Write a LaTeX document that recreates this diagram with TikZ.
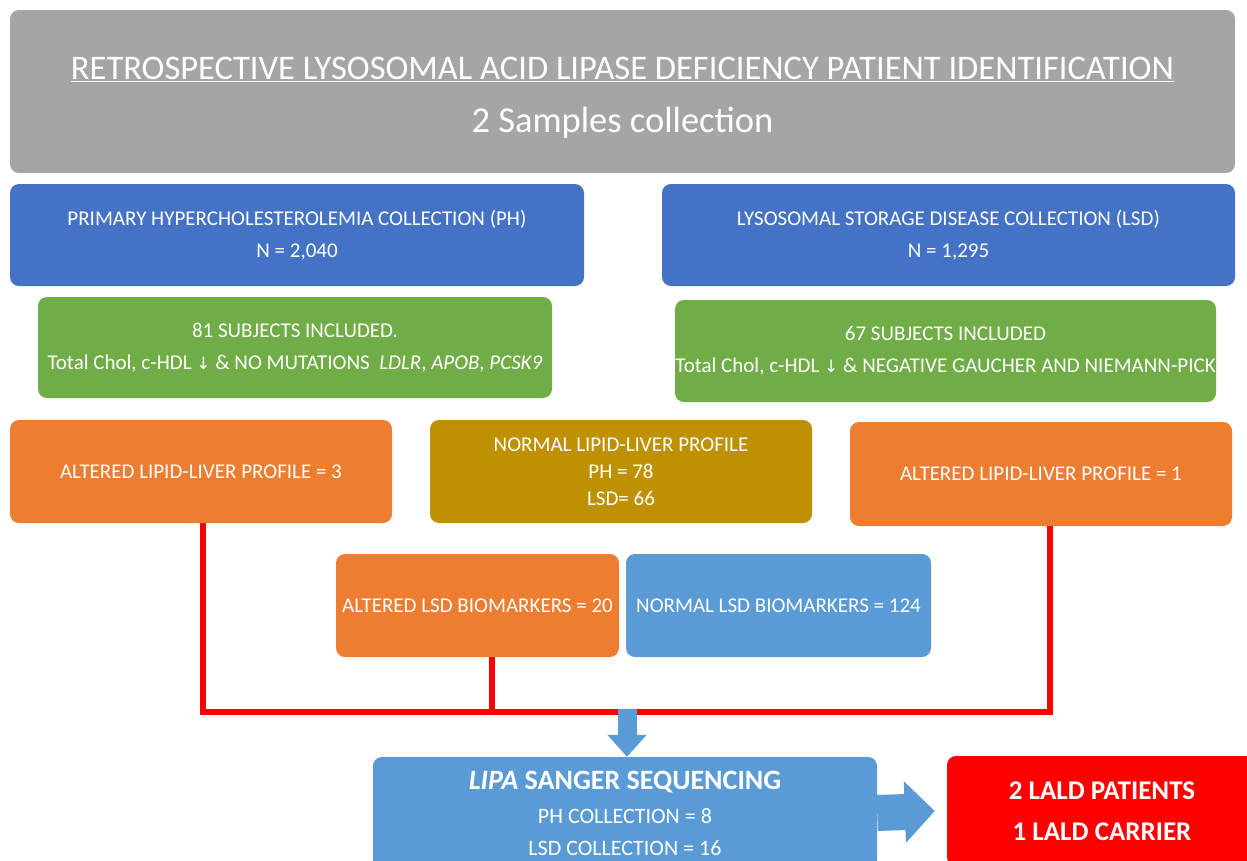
\documentclass[tikz,border=0pt]{standalone}
\usepackage{fontspec}
\setmainfont{Carlito}
\newfontfamily\symfont{DejaVu Sans}
\usetikzlibrary{arrows.meta}
\definecolor{titlegray}{HTML}{A5A5A5}
\definecolor{darkblue}{HTML}{4472C4}
\definecolor{lgreen}{HTML}{70AD47}
\definecolor{lorange}{HTML}{ED7D31}
\definecolor{gold}{HTML}{BF9000}
\definecolor{lblue}{HTML}{5B9BD5}
\definecolor{bred}{HTML}{FF0000}
\tikzset{
  box/.style={rounded corners=9pt, draw=none, text=white, align=center, inner sep=0pt, font=\fontsize{21}{32}\selectfont},
  redline/.style={draw=bred, line width=6pt, line join=miter},
  bluearrow/.style={draw=lblue},
}
\newcommand{\dn}{{\symfont\fontsize{17}{17}\selectfont ↓}}
\begin{document}
\begin{tikzpicture}[x=1pt,y=-1pt]
\useasboundingbox (0,0) rectangle (1247,860);
\fill[white] (0,0) rectangle (1247,860);
% title
\node[box, fill=titlegray, minimum width=1225, minimum height=163, text height=88pt] (title) at (622.5,91.5)
  {\fontsize{34.5}{40}\selectfont\underline{RETROSPECTIVE LYSOSOMAL ACID LIPASE DEFICIENCY PATIENT IDENTIFICATION}\\[21pt]
   \fontsize{36.5}{40}\selectfont 2 Samples collection};
% collections
\node[box, fill=darkblue, minimum width=574, minimum height=102] (ph) at (297,235)
  {PRIMARY HYPERCHOLESTEROLEMIA COLLECTION (PH)\\N = 2,040};
\node[box, fill=darkblue, minimum width=573, minimum height=102] (lsd) at (948.5,235)
  {LYSOSOMAL STORAGE DISEASE COLLECTION (LSD)\\N = 1,295};
% inclusion
\node[box, fill=lgreen, minimum width=514, minimum height=101] (incph) at (295,347.5)
  {81 SUBJECTS INCLUDED.\\Total Chol, c-HDL \dn{} \& NO MUTATIONS\ \ \textit{LDLR}, \textit{APOB}, \textit{PCSK9}};
\node[box, fill=lgreen, minimum width=541, minimum height=102] (inclsd) at (945.5,351)
  {67 SUBJECTS INCLUDED\\Total Chol, c-HDL \dn{} \& NEGATIVE GAUCHER AND NIEMANN-PICK};
% profiles
\node[box, fill=lorange, minimum width=382, minimum height=103] (alt1) at (201,471.5)
  {ALTERED LIPID-LIVER PROFILE = 3};
\node[box, fill=gold, minimum width=382, minimum height=103, font=\fontsize{21}{27}\selectfont] (normal) at (621,471.5)
  {NORMAL LIPID-LIVER PROFILE\\PH = 78\\LSD= 66};
\node[box, fill=lorange, minimum width=382, minimum height=104] (alt2) at (1041,474)
  {ALTERED LIPID-LIVER PROFILE = 1};
% biomarkers
\node[box, fill=lorange, minimum width=283, minimum height=103] (altlsd) at (477.5,605.5)
  {ALTERED LSD BIOMARKERS = 20};
\node[box, fill=lblue, minimum width=305, minimum height=103] (normlsd) at (778.5,605.5)
  {NORMAL LSD BIOMARKERS = 124};
% sequencing
\node[box, fill=lblue, minimum width=504, minimum height=112, font=\fontsize{22}{32}\selectfont] (lipa) at (625,813)
  {{\fontsize{28}{28}\selectfont\bfseries\textit{LIPA} SANGER SEQUENCING}\\[2pt]PH COLLECTION = 8\\LSD COLLECTION = 16};
\node[box, fill=bred, minimum width=310, minimum height=110, font=\fontsize{27}{41}\selectfont\bfseries] (result) at (1102,811)
  {2 LALD PATIENTS\\1 LALD CARRIER};
% connectors
\coordinate (j) at (627,712);
\draw[redline] ([xshift=2pt]alt1.south) -- ([xshift=2pt]alt1.south |- j) -- ([xshift=9pt]alt2.south |- j) -- ([xshift=9pt]alt2.south);
\draw[redline] ([xshift=14.5pt]altlsd.south) -- ([xshift=14.5pt]altlsd.south |- j);
\draw[bluearrow, line width=19pt, -{Triangle[width=38pt,length=22pt]}] ([yshift=3pt]j) -- ([xshift=2pt]lipa.north);
\draw[bluearrow, line width=36pt, -{Triangle[width=60pt,length=30pt]}] (lipa.east) -- ([xshift=-12pt]result.west);
\end{tikzpicture}
\end{document}
